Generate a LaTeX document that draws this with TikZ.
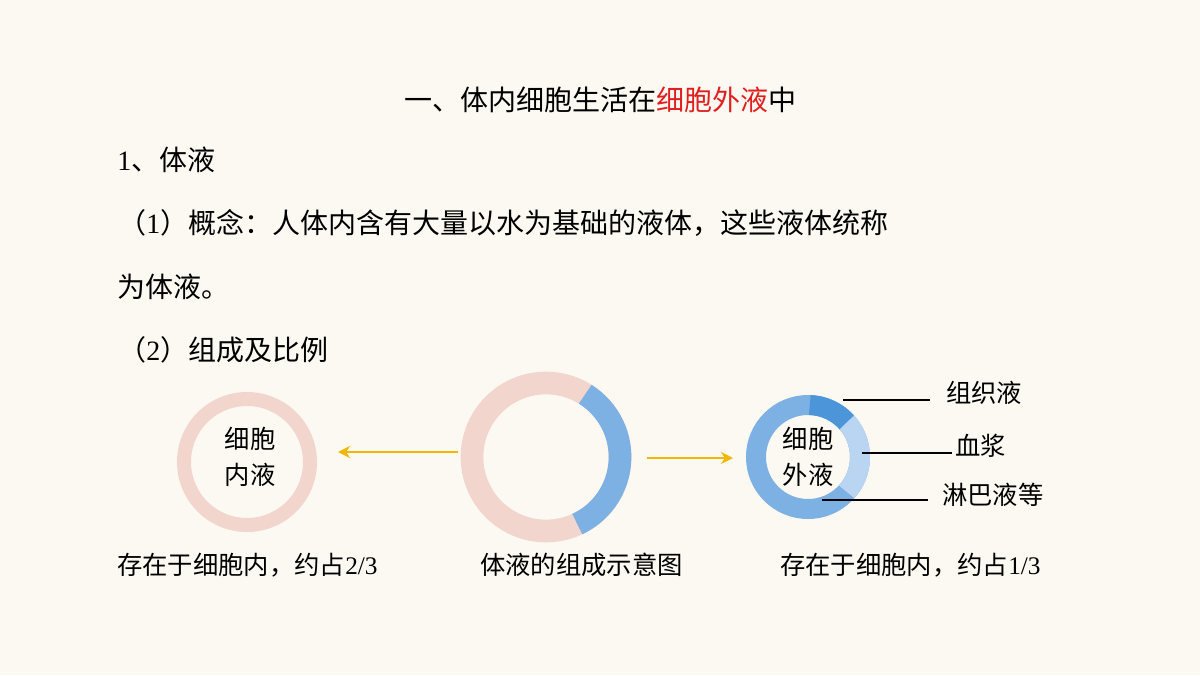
\documentclass[tikz,border=0pt]{standalone}
\usepackage{fontspec}
\usetikzlibrary{arrows.meta}
\setmainfont{Noto Sans CJK SC}
\newfontfamily\dig{Liberation Serif}
\definecolor{bg}{HTML}{FBF9F1}
\definecolor{pinkr}{HTML}{F2D5CC}
\definecolor{blueA}{HTML}{7DB1E3}
\definecolor{blueL}{HTML}{BAD5F1}
\definecolor{blueD}{HTML}{4C95D8}
\definecolor{ttlred}{HTML}{E02020}
\definecolor{arr}{HTML}{F2B705}
\begin{document}
\begin{tikzpicture}[x=0.75pt,y=-0.75pt,
  txt/.style={anchor=west,inner sep=0,font=\fontsize{21}{25}\selectfont},
  lbl/.style={anchor=west,inner sep=0,font=\fontsize{19}{23}\selectfont},
  yarrow/.style={draw=arr,line width=2.2pt,-{Stealth[length=9pt,width=9pt]}},
  leader/.style={draw=black,line width=0.8pt}]
\fill[bg] (0,0) rectangle (1200,675);
\useasboundingbox (0,0) rectangle (1200,675);
\node[inner sep=0,font=\fontsize{21}{25}\selectfont] (title) at (600,100) {一、体内细胞生活在\textcolor{ttlred}{细胞外液}中};
\node[txt] (t1) at (117,160) {{\dig 1}、体液};
\node[txt] (t2) at (118,223) {（{\dig 1}）概念：人体内含有大量以水为基础的液体，这些液体统称};
\node[txt] (t3) at (117,287) {为体液。};
\node[txt] (t4) at (118,350) {（{\dig 2}）组成及比例};
% left ring
\draw[pinkr,line width=10.5pt] (247,462) circle[radius=63];
\node[inner sep=0,align=center,font=\fontsize{19}{27}\selectfont] (inner) at (250,457) {细胞\\内液};
% center ring
\draw[pinkr,line width=17pt] (546,457) circle[radius=74];
\draw[blueA,line width=17pt] (546,457) ++(65:74) arc[start angle=65,end angle=-58,radius=74];
% right ring
\draw[blueA,line width=15pt] (808,457) circle[radius=52];
\draw[blueL,line width=15pt] (808,457) ++(42:52) arc[start angle=42,end angle=-42,radius=52];
\draw[blueD,line width=15pt] (808,457) ++(-42:52) arc[start angle=-42,end angle=-88,radius=52];
\node[inner sep=0,align=center,font=\fontsize{19}{27}\selectfont] (outer) at (808,457) {细胞\\外液};
% arrows
\coordinate (la1) at (458,452); \coordinate (la2) at (338,452);
\coordinate (ra1) at (647,458); \coordinate (ra2) at (733,458);
\draw[yarrow] (la1) -- (la2);
\draw[yarrow] (ra1) -- (ra2);
% labels
\node[lbl] (l1) at (946,393) {组织液};
\node[lbl] (l2) at (955,446) {血浆};
\node[lbl] (l3) at (942,495) {淋巴液等};
\coordinate (p1) at (843,400); \coordinate (p2) at (862,453); \coordinate (p3) at (822,500);
\draw[leader] (p1) -- (930,400);
\draw[leader] (p2) -- (952,453);
\draw[leader] (p3) -- (928,500);
% captions
\node[txt,font=\fontsize{19}{23}\selectfont] (c1) at (117,565) {存在于细胞内，约占{\dig 2/3}};
\node[txt,font=\fontsize{19}{23}\selectfont] (c2) at (480,565) {体液的组成示意图};
\node[txt,font=\fontsize{19}{23}\selectfont] (c3) at (780,565) {存在于细胞内，约占{\dig 1/3}};
\end{tikzpicture}
\end{document}
